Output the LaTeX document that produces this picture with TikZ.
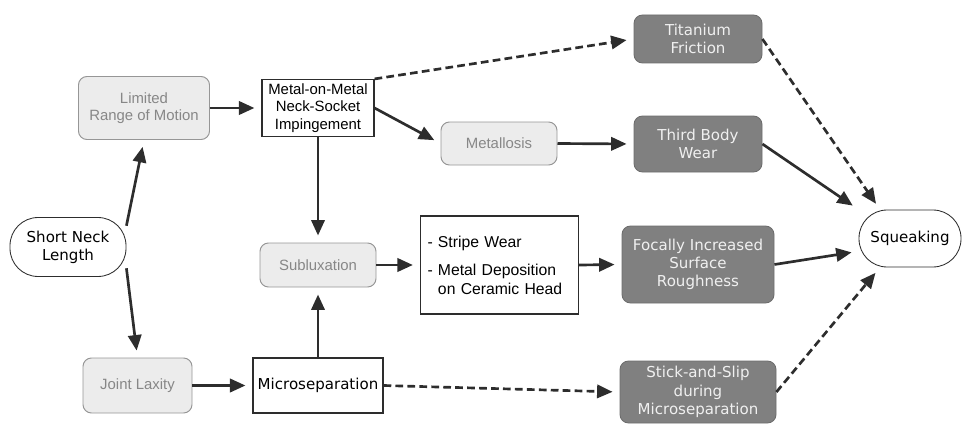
\documentclass[tikz,border=0pt]{standalone}
\usepackage{xcolor}
\usepackage{fontspec}
\setmainfont{Liberation Sans}
\newfontfamily\verdanalike{DejaVu Sans}
\usepackage{tikz}
\usetikzlibrary{arrows.meta}

\definecolor{lightbox}{RGB}{236,236,236}
\definecolor{lightline}{RGB}{150,150,150}
\definecolor{lighttext}{RGB}{135,135,135}
\definecolor{darkbox}{RGB}{128,128,128}
\definecolor{darktext}{RGB}{240,240,240}
\definecolor{linecol}{RGB}{45,45,45}

\begin{document}
\begin{tikzpicture}[
        lightnode/.style={draw=lightline, fill=lightbox, text=lighttext, rounded corners=6pt,
            align=center, line width=0.7pt, font=\fontsize{10.6}{12.5}\selectfont},
        darknode/.style={draw=darkbox!85!black, fill=darkbox, text=darktext, rounded corners=6pt,
            align=center, line width=0.6pt, font=\verdanalike\fontsize{10.7}{13}\selectfont},
        plainbox/.style={draw=linecol, fill=white, line width=0.8pt, align=center,
            font=\fontsize{10.6}{12.5}\selectfont},
        pill/.style={draw=linecol, fill=white, rounded corners=20pt, line width=0.6pt,
            align=center, font=\verdanalike\fontsize{10.7}{13}\selectfont},
        arr/.style={-{Triangle[length=11pt,width=9.5pt]}, line width=1.9pt, draw=linecol,
            shorten >=5pt},
        darr/.style={arr, dash pattern=on 5.5pt off 3pt}
    ]
        % Frame of the picture (963 x 425 px, 1 px = 0.025 cm)
        \useasboundingbox (0,0) rectangle (24.075,-10.625);

        % Causes on the left
        \node[pill, minimum width=2.9cm, minimum height=1.475cm] (neck) at (1.70,-6.175) {Short Neck\\Length};
        \node[lightnode, minimum width=3.275cm, minimum height=1.575cm] (range) at (3.60,-2.70) {Limited\\Range of Motion};
        \node[lightnode, minimum width=2.725cm, minimum height=1.375cm] (laxity) at (3.4375,-9.6375) {Joint Laxity};

        % Middle column
        \node[plainbox, minimum width=2.8cm, minimum height=1.425cm, inner sep=1pt] (impinge) at (7.95,-2.70) {Metal-on-Metal\\Neck-Socket\\Impingement};
        \node[lightnode, minimum width=2.9cm, minimum height=1.1cm] (sublux) at (7.95,-6.625) {Subluxation};
        \node[plainbox, minimum width=3.2cm, minimum height=1.375cm, font=\verdanalike\fontsize{10.7}{13}\selectfont] (microsep) at (7.95,-9.6375) {Microseparation};

        % Wear findings
        \node[lightnode, minimum width=2.9cm, minimum height=1.075cm] (metallosis) at (12.475,-3.5875) {Metallosis};
        \node[plainbox, align=left, text width=3.6cm, inner xsep=5pt, minimum height=2.45cm,
            font=\fontsize{11.2}{13.2}\selectfont] (stripe) at (12.4875,-6.625)
            {- Stripe Wear\\[7pt]- Metal Deposition\\\phantom{- }on Ceramic Head};

        % Mechanisms
        \node[darknode, minimum width=3.2cm, minimum height=1.2cm] (titanium) at (17.45,-0.975) {Titanium\\Friction};
        \node[darknode, minimum width=3.2cm, minimum height=1.4cm] (thirdbody) at (17.45,-3.60) {Third Body\\Wear};
        \node[darknode, minimum width=3.8cm, minimum height=1.925cm] (rough) at (17.45,-6.6125) {Focally Increased\\Surface\\Roughness};
        \node[darknode, minimum width=3.9cm, minimum height=1.55cm] (stickslip) at (17.45,-9.80) {Stick-and-Slip\\during\\Microseparation};

        % Outcome
        \node[pill, minimum width=2.55cm, minimum height=1.425cm] (squeak) at (22.75,-5.9625) {Squeaking};
        \coordinate (sqtop) at ([xshift=-0.75cm]squeak.north);
        \coordinate (sqbot) at ([xshift=-0.75cm]squeak.south);

        % Solid connectors
        \draw[arr] (neck.20) -- (range.south);
        \draw[arr] (neck.-20) -- (laxity.north);
        \draw[arr] (range.east) -- (impinge.west);
        \draw[arr] (laxity.east) -- (microsep.west);
        \draw[arr] (impinge.south) -- (sublux.north);
        \draw[arr] (microsep.north) -- (sublux.south);
        \draw[arr] (impinge.east) -- (metallosis.west);
        \draw[arr] (sublux.east) -- (stripe.west);
        \draw[arr] (metallosis.east) -- (thirdbody.west);
        \draw[arr] (stripe.east) -- (rough.west);
        \draw[arr] (thirdbody.east) -- (squeak.north west);
        \draw[arr] (rough.east) -- (squeak.194);

        % Dashed connectors
        \draw[darr] (impinge.north east) -- (titanium.west);
        \draw[darr] (microsep.east) -- (stickslip.west);
        \draw[darr] (titanium.east) -- (sqtop);
        \draw[darr] (stickslip.east) -- (sqbot);
\end{tikzpicture}
\end{document}
